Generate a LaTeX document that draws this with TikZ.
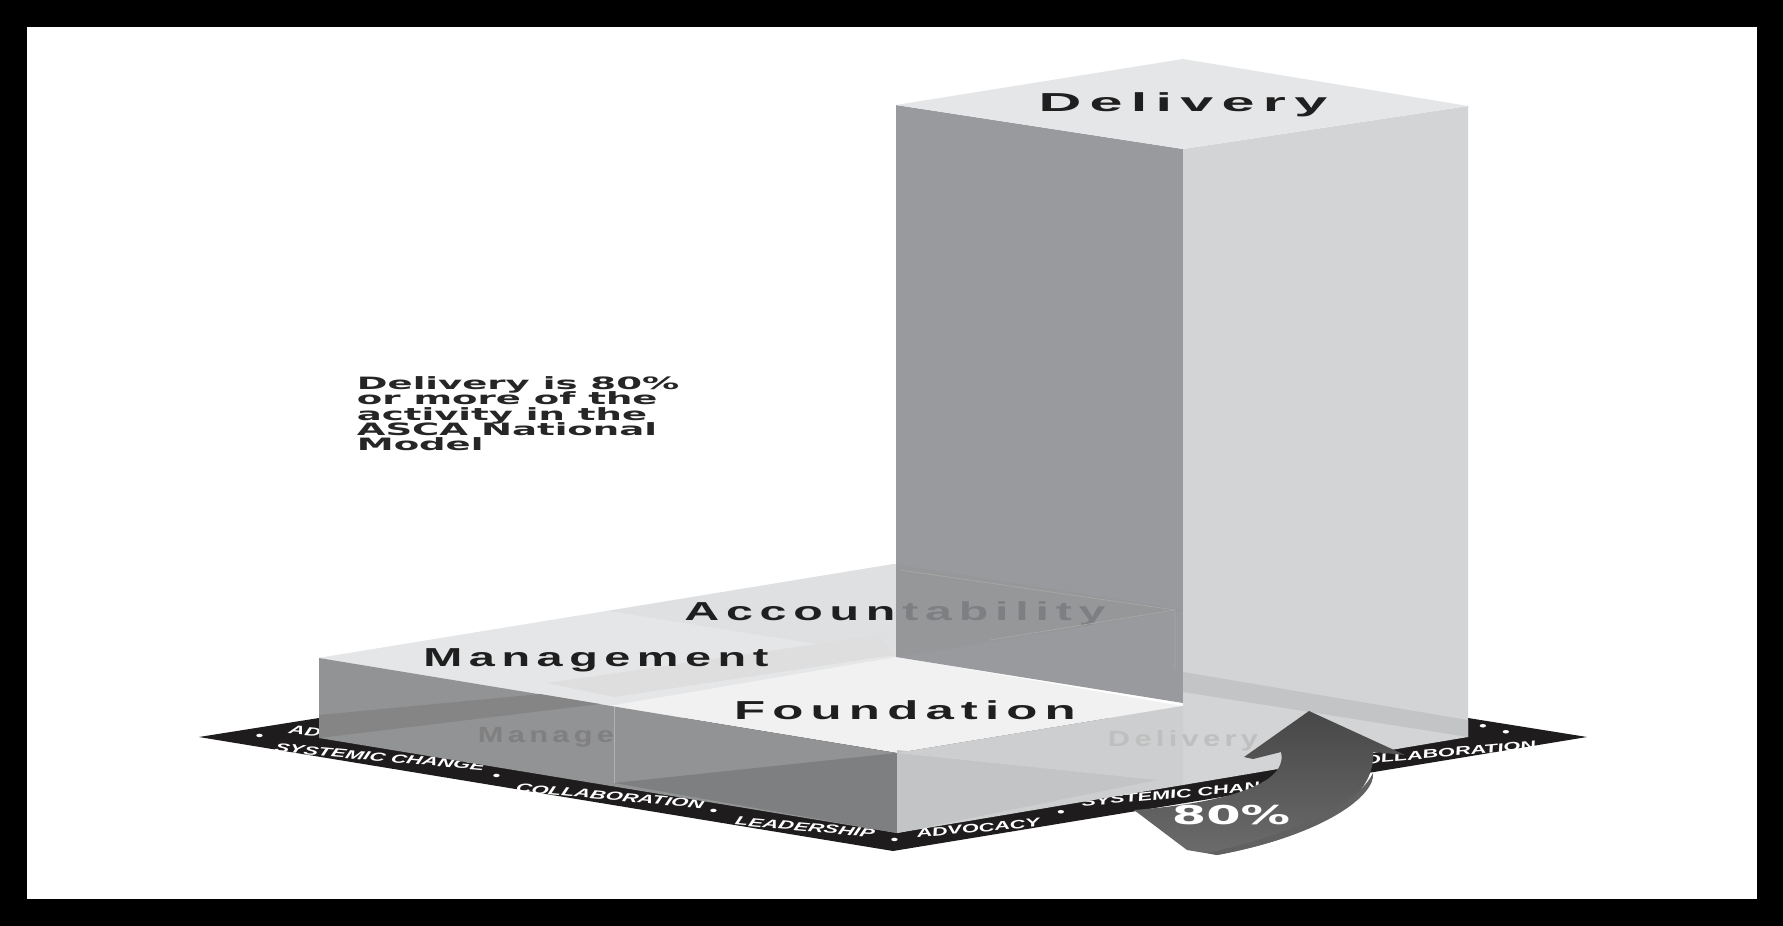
\documentclass[tikz,border=0pt]{standalone}
\usepackage{fontspec}
\setmainfont{Liberation Sans}
\newfontfamily\tilefont[LetterSpace=14]{Liberation Sans}
\newfontfamily\notefont{DejaVu Sans}
\usepackage{xcolor}
\usetikzlibrary{calc}
\newcommand\noteskip{\lineskiplimit -20pt\relax}
\definecolor{bandblack}{RGB}{30,28,29}
\definecolor{toptile}{RGB}{229,230,231}
\definecolor{midtile}{RGB}{223,224,226}
\definecolor{foundtile}{RGB}{241,241,241}
\definecolor{leftface}{RGB}{146,147,149}
\definecolor{leftdark}{RGB}{126,127,129}
\definecolor{rightface}{RGB}{205,206,208}
\definecolor{rightdark}{RGB}{195,196,198}
\definecolor{towerleft}{RGB}{140,141,144}
\definecolor{towerright}{RGB}{211,212,214}
\definecolor{towertop}{RGB}{229,230,231}
\tikzset{
  tilelab/.style={font=\tilefont\bfseries\fontsize{13pt}{13pt}\selectfont,text=black!88,inner sep=0pt,xscale=#1},
  ghostlab/.style={font=\tilefont\bfseries\fontsize{11pt}{11pt}\selectfont,text=#1,inner sep=0pt,xscale=1.4},
  bandlab/.style={font=\bfseries\itshape\fontsize{6pt}{6pt}\selectfont,text=white,inner sep=0pt,xscale=1.82},
  notelab/.style={font=\notefont\bfseries\fontsize{8.5pt}{7.7pt}\selectfont\noteskip,align=left,text=black!85,inner sep=0pt,xscale=2.18,anchor=north west},
  ghostline/.style={line width=.4pt,draw=#1}
}
\begin{document}
\begin{tikzpicture}[x=.5pt,y=-.5pt]
  \useasboundingbox (0,0) rectangle (1783,926);
  % frame
  \fill[black] (0,0) rectangle (1783,926);
  \fill[white] (27,27) rectangle (1757,899);

  % floor band
  \fill[bandblack] (199,737) -- (893,851) -- (1587,737) -- (1468,718) -- (319,718) -- cycle;
  \node[bandlab,rotate=-9.3] (bdotA) at (259,737) {•};
  \node[bandlab,rotate=-9.3] (bsysA) at (380,757) {SYSTEMIC CHANGE};
  \node[bandlab,rotate=-9.3] (bdotB) at (496,777) {•};
  \node[bandlab,rotate=-9.3] (bcolA) at (610,796) {COLLABORATION};
  \node[bandlab,rotate=-9.3] (bdotC) at (713,812) {•};
  \node[bandlab,rotate=-9.3] (blead) at (805,827) {LEADERSHIP};
  \node[bandlab,rotate=-9.3] (bdotD) at (894,841) {•};
  \node[bandlab,rotate=9.3] (badvo) at (978,828) {ADVOCACY};
  \node[bandlab,rotate=9.3] (bdotE) at (1061,813) {•};
  \node[bandlab,rotate=9.3] (bsysB) at (1186,793) {SYSTEMIC CHANGE};
  \node[bandlab,rotate=9.3] (bcolB) at (1442,753) {COLLABORATION};
  \node[bandlab,rotate=9.3] (bdotF) at (1506,733) {•};
  \node[bandlab,rotate=9.3] (bdotG) at (1483,727) {•};
  \node[bandlab,rotate=-9.3] (badvB) at (305,731) {AD};

  % slab top
  \fill[toptile] (894,564) -- (319,658) -- (610,706) -- (897,657) -- (1183,610) -- cycle;
  \fill[midtile] (894,564) -- (608,611) -- (897,657) -- (1183,610) -- cycle;
  \fill[toptile] (319,658) -- (608,611) -- (897,657) -- (610,706) -- cycle;
  \fill[black!13] (547,683) -- (879,635) -- (894,655) -- (614,697) -- cycle;
  \fill[foundtile] (897,657) -- (1183,706) -- (897,753) -- (610,706) -- cycle;

  % slab faces
  \fill[leftface] (319,658) -- (897,753) -- (897,833) -- (319,738) -- cycle;
  \fill[black!48] (319,715) -- (540,694) -- (600,704) -- (319,738) -- cycle;
  \fill[leftdark] (614,783) -- (897,753) -- (897,833) -- cycle;
  \fill[rightface] (897,753) -- (1183,706) -- (1183,785) -- (897,833) -- cycle;
  \fill[rightdark] (897,750) -- (1157,780) -- (897,833) -- cycle;
  \draw[ghostline=black!30] (614,707) -- (614,783);
  \node[ghostlab=black!50] (ghostman) at (546,737) {Manage};

  % slab labels
  \node[tilelab=1.8] (manage) at (596,660) {Management};
  \node[tilelab=1.96] (found) at (905,710) {Foundation};
  \node[tilelab=1.86] (acct) at (895,614) {Accountability};

  % tower
  \fill[towerleft,opacity=.88] (896,105) -- (1183,149) -- (1183,703) -- (896,657) -- cycle;
  \fill[towerright] (1183,149) -- (1468,106) -- (1468,737) -- (1183,785) -- cycle;
  \fill[rightdark] (1183,672) -- (1468,720) -- (1468,737) -- (1183,692) -- cycle;
  \fill[rightface] (897,753) -- (1183,706) -- (1183,785) -- (1157,780) -- cycle;
  \fill[towertop] (1183,59) -- (896,105) -- (1183,149) -- (1468,106) -- cycle;
  \draw[ghostline=black!35] (900,570) -- (1175,610) -- (1175,670);
  \draw[ghostline=black!35] (990,640) -- (1175,610);
  \node[ghostlab=black!25] (ghostdel) at (1183,741) {Delivery};
  \node[tilelab=2.28] (deliv) at (1183,105) {Delivery};

  % note
  \node[notelab] (note) at (356,376) {Delivery is 80\%\\or more of the\\activity in the\\ASCA National\\Model};

  % arrow
  \shade[left color=black!72,right color=black!58,shading angle=0]
    (1309,711) -- (1405,755) -- (1373,752)
    .. controls (1376,795) and (1325,835) .. (1217,855)
    -- (1187,850) -- (1134,810)
    .. controls (1200,805) and (1290,790) .. (1281,752)
    -- (1253,759) -- (1244,757) -- cycle;
  \fill[black!62] (1373,773) .. controls (1376,795) and (1325,835) .. (1217,855)
    -- (1208,853) .. controls (1310,830) and (1360,800) .. (1373,773) -- cycle;
  \node[font=\notefont\bfseries\fontsize{13pt}{13pt}\selectfont,text=white,inner sep=0pt,xscale=1.9] (pct) at (1231,815) {80\%};
\end{tikzpicture}
\end{document}
